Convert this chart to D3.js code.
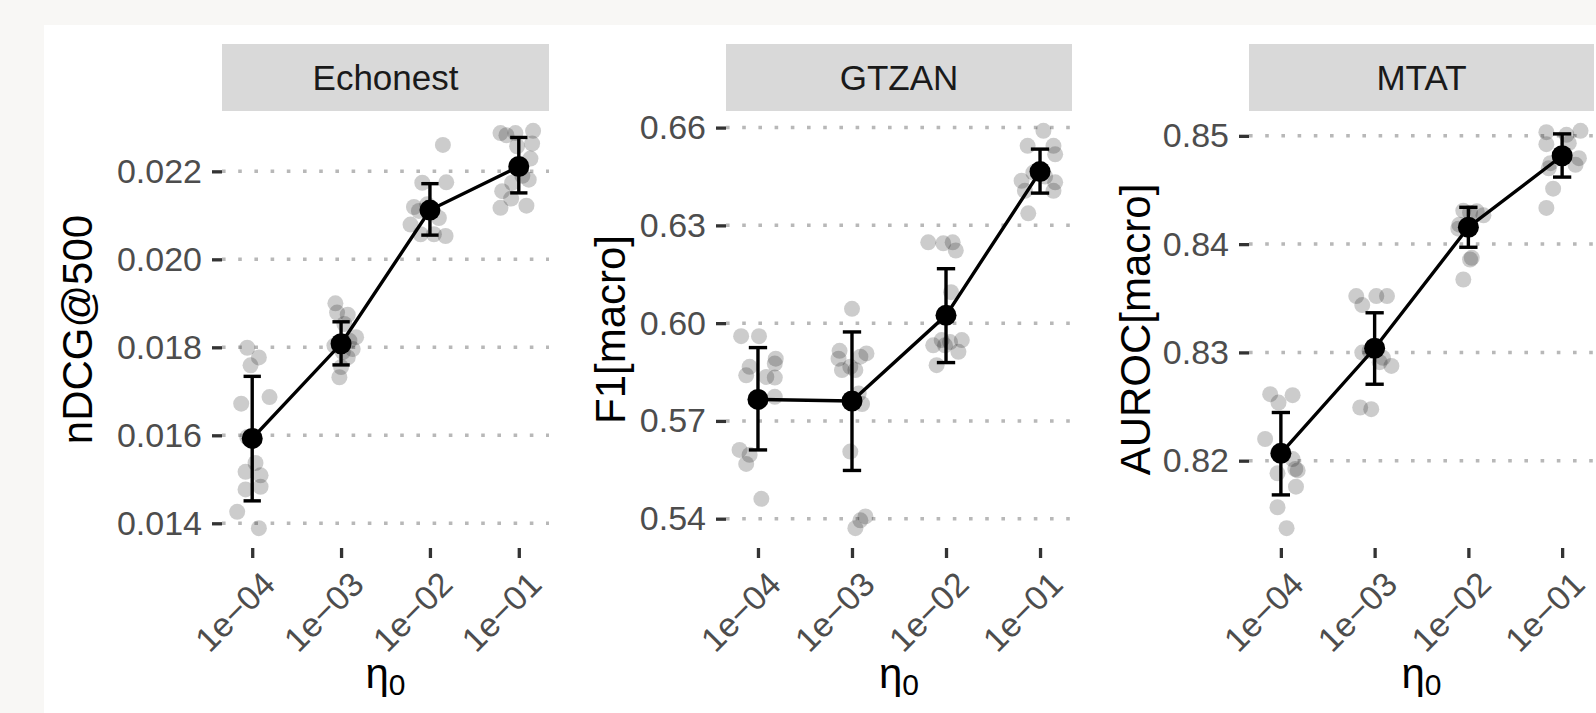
<!DOCTYPE html>
<html>
<head>
<meta charset="utf-8">
<title>eta0 sweep</title>
<script src="https://cdn.jsdelivr.net/npm/d3@7"></script>
<style>
  html, body { margin: 0; padding: 0; background: #f8f7f5; }
  svg { display: block; font-family: "Liberation Sans", Arial, sans-serif; }
</style>
</head>
<body>
<div class="vis"></div>
<script>
'use strict';

// shared x axis: initial learning rate as powers of ten
var etaExponents = [-4, -3, -2, -1];
var etaLabels = ['1e\u221204', '1e\u221203', '1e\u221202', '1e\u221201'];

// facet names and y titles
var datasets = ['Echonest', 'GTZAN', 'MTAT'];
var metricTitles = ['nDCG@500', 'F1[macro]', 'AUROC[macro]'];

// y tick labels per facet
var echonestTicks = [0.014, 0.016, 0.018, 0.020, 0.022];
var gtzanTicks = [0.54, 0.57, 0.60, 0.63, 0.66];
var mtatTicks = [0.82, 0.83, 0.84, 0.85];

// mean and error bar ends per eta0
var echonestMean = [0.01593, 0.01808, 0.02112, 0.02211];
var echonestLow = [0.01451, 0.01760, 0.02055, 0.02151];
var echonestHigh = [0.01734, 0.01858, 0.02172, 0.02277];

var gtzanMean = [0.5766, 0.5761, 0.6024, 0.6465];
var gtzanLow = [0.5611, 0.5548, 0.5879, 0.6399];
var gtzanHigh = [0.5925, 0.5973, 0.6167, 0.6534];

var mtatMean = [0.82068, 0.83038, 0.84156, 0.84816];
var mtatLow = [0.81684, 0.82706, 0.83971, 0.84619];
var mtatHigh = [0.82445, 0.83366, 0.84340, 0.85018];

// single runs: [log10(eta0) with jitter, score]
var echonestRuns = [
  [-4.056, 0.01799], [-3.925, 0.01777], [-4.019, 0.01759], [-3.805, 0.01687], [-4.124, 0.01672],
  [-4.056, 0.01596], [-3.963, 0.01537], [-4.075, 0.01517], [-3.906, 0.01509], [-4.075, 0.01477],
  [-3.906, 0.01483], [-4.169, 0.01426], [-3.925, 0.01389],
  [-3.064, 0.01900], [-3.045, 0.01879], [-2.925, 0.01874], [-2.963, 0.01853], [-2.831, 0.01823],
  [-3.075, 0.01804], [-2.869, 0.01796], [-2.925, 0.01777], [-3.000, 0.01755], [-3.019, 0.01732],
  [-2.906, 0.01815], [-2.981, 0.01789],
  [-1.854, 0.02260], [-2.086, 0.02174], [-1.816, 0.02175], [-2.180, 0.02119], [-2.124, 0.02110],
  [-1.899, 0.02094], [-2.218, 0.02079], [-2.105, 0.02057], [-1.955, 0.02057], [-1.824, 0.02053],
  [-2.030, 0.02125],
  [-1.206, 0.02287], [-1.139, 0.02282], [-1.038, 0.02287], [-0.839, 0.02292], [-0.850, 0.02263],
  [-1.019, 0.02257], [-0.869, 0.02229], [-0.888, 0.02181], [-1.075, 0.02174], [-1.187, 0.02155],
  [-1.086, 0.02138], [-1.206, 0.02117], [-0.914, 0.02122], [-0.960, 0.02190]
];

var gtzanRuns = [
  [-4.179, 0.5960], [-3.989, 0.5960], [-3.811, 0.5891], [-3.821, 0.5876], [-4.089, 0.5866],
  [-4.125, 0.5840], [-3.911, 0.5835], [-3.821, 0.5833], [-3.821, 0.5774], [-4.196, 0.5611],
  [-4.089, 0.5596], [-4.125, 0.5568], [-3.964, 0.5461],
  [-3.000, 0.6044], [-3.132, 0.5915], [-2.846, 0.5907], [-2.911, 0.5897], [-3.143, 0.5891],
  [-3.018, 0.5866], [-3.107, 0.5856], [-2.964, 0.5856], [-2.929, 0.5784], [-2.893, 0.5752],
  [-3.018, 0.5606], [-2.857, 0.5407], [-2.911, 0.5395], [-2.964, 0.5371],
  [-2.189, 0.6248], [-2.029, 0.6245], [-1.929, 0.6248], [-1.896, 0.6223], [-1.946, 0.6095],
  [-2.136, 0.5932], [-2.046, 0.5948], [-1.957, 0.5942], [-1.832, 0.5948], [-1.868, 0.5912],
  [-2.100, 0.5871], [-2.011, 0.5932],
  [-0.964, 0.6590], [-1.132, 0.6544], [-0.857, 0.6544], [-0.839, 0.6518], [-1.071, 0.6462],
  [-1.196, 0.6437], [-0.839, 0.6432], [-1.161, 0.6406], [-0.857, 0.6406], [-1.125, 0.6337],
  [-0.946, 0.6450]
];

var mtatRuns = [
  [-4.114, 0.82614], [-4.025, 0.82537], [-3.875, 0.82605], [-4.168, 0.82200], [-3.875, 0.82015],
  [-4.036, 0.81883], [-3.846, 0.81923], [-3.821, 0.81910], [-3.839, 0.81760], [-4.036, 0.81570],
  [-3.939, 0.81377],
  [-3.196, 0.83520], [-2.982, 0.83520], [-2.868, 0.83520], [-3.132, 0.83437], [-3.132, 0.82998],
  [-2.911, 0.82950], [-2.946, 0.82910], [-2.821, 0.82875], [-3.154, 0.82491], [-3.036, 0.82476],
  [-3.054, 0.83013],
  [-2.054, 0.84309], [-1.911, 0.84303], [-1.839, 0.84266], [-2.096, 0.84180], [-2.107, 0.84143],
  [-1.964, 0.83873], [-1.982, 0.83858], [-2.054, 0.83673], [-1.982, 0.84290],
  [-1.168, 0.85034], [-0.804, 0.85046], [-0.954, 0.85009], [-1.168, 0.84923], [-0.929, 0.84932],
  [-0.821, 0.84794], [-0.857, 0.84733], [-1.125, 0.84748], [-1.143, 0.84700], [-1.096, 0.84512],
  [-1.168, 0.84334]
];

(function ( window, document, undefined ) {

  var width = 1596;
  var height = 713;

  // x limits in log10 units, same for every facet
  var xLimits = [-4.34, -0.66];
  // error bar cap width in log10 units
  var capWidth = 0.195;

  // panel boxes (pixels) and where each y title sits
  var panelTop = 111;
  var panelBottom = 548;
  var stripTop = 44;
  var panels = [
    { left: 222, right: 549, titleX: 92 },
    { left: 726, right: 1072, titleX: 625 },
    { left: 1249, right: 1594, titleX: 1150 }
  ];

  var facets = [
    { ticks: echonestTicks, fmt: d3.format('.3f'), mean: echonestMean, low: echonestLow, high: echonestHigh, runs: echonestRuns },
    { ticks: gtzanTicks, fmt: d3.format('.2f'), mean: gtzanMean, low: gtzanLow, high: gtzanHigh, runs: gtzanRuns },
    { ticks: mtatTicks, fmt: d3.format('.2f'), mean: mtatMean, low: mtatLow, high: mtatHigh, runs: mtatRuns }
  ];

  var svg = d3.select('.vis')
    .append('svg')
    .attr('width', width)
    .attr('height', height);

  // white plot area on the grey page
  svg.append('rect')
    .attr('x', 44)
    .attr('y', 25)
    .attr('width', width - 44)
    .attr('height', height - 25)
    .attr('fill', '#ffffff');

  facets.forEach(function ( facet, i ) {
    drawFacet( facet, panels[i], datasets[i], metricTitles[i] );
  });

  /**
   * Draws one facet: strip, grid, axes, single runs, mean line and error bars.
   *
   * @param {object} facet data of the facet
   * @param {object} box pixel box of the panel
   * @param {string} name facet name shown in the strip
   * @param {string} title y axis title
   */
  function drawFacet( facet, box, name, title ) {

    var x = d3.scaleLinear()
      .domain( xLimits )
      .range( [box.left, box.right] );

    // y limits: data range expanded by 5% like ggplot does
    var values = facet.runs.map(function(d) { return d[1]; })
      .concat( facet.low, facet.high );
    var ext = d3.extent( values );
    var pad = (ext[1] - ext[0]) * 0.05;

    var y = d3.scaleLinear()
      .domain( [ext[0] - pad, ext[1] + pad] )
      .range( [panelBottom, panelTop] );

    var g = svg.append('g');

    // strip with facet name
    g.append('rect')
      .attr('x', box.left)
      .attr('y', stripTop)
      .attr('width', box.right - box.left)
      .attr('height', panelTop - stripTop)
      .attr('fill', '#d9d9d9');

    g.append('text')
      .attr('x', (box.left + box.right) / 2)
      .attr('y', (stripTop + panelTop) / 2)
      .attr('dy', '0.36em')
      .attr('text-anchor', 'middle')
      .attr('font-size', 35)
      .attr('fill', '#1a1a1a')
      .text( name );

    // dotted horizontal grid
    g.selectAll('.grid')
      .data( facet.ticks )
      .enter()
      .append('line')
      .attr('class', 'grid')
      .attr('x1', box.left)
      .attr('x2', box.right)
      .attr('y1', function(d) { return y(d); })
      .attr('y2', function(d) { return y(d); })
      .attr('stroke', '#b8b8b8')
      .attr('stroke-width', 3.5)
      .attr('stroke-dasharray', '3.6,12.6');

    // y axis
    var yAxis = g.append('g')
      .attr('transform', 'translate(' + box.left + ',0)')
      .call( d3.axisLeft( y ).tickValues( facet.ticks ).tickFormat( facet.fmt ).tickSize( 10 ).tickPadding( 10 ) );

    // x axis
    var xAxis = g.append('g')
      .attr('transform', 'translate(0,' + panelBottom + ')')
      .call( d3.axisBottom( x ).tickValues( etaExponents )
        .tickFormat(function(d, j) { return etaLabels[j]; })
        .tickSize( 10 ) );

    [yAxis, xAxis].forEach(function ( axis ) {
      axis.select('.domain').remove();
      axis.selectAll('.tick line')
        .attr('stroke', '#333333')
        .attr('stroke-width', 3.3);
      axis.selectAll('.tick text')
        .attr('fill', '#4d4d4d')
        .attr('font-size', 34)
        .attr('font-family', '"Liberation Sans", Arial, sans-serif');
    });

    // rotated eta labels, right end at the tick
    xAxis.selectAll('.tick text')
      .attr('text-anchor', 'end')
      .attr('y', 0)
      .attr('dy', '0.72em')
      .attr('transform', 'translate(7,21) rotate(-45)');

    // axis titles
    g.append('text')
      .attr('transform', 'translate(' + box.titleX + ',' + (panelTop + panelBottom) / 2 + ') rotate(-90)')
      .attr('text-anchor', 'middle')
      .attr('font-size', 42)
      .attr('fill', '#000000')
      .text( title );

    var xTitle = g.append('text')
      .attr('x', (box.left + box.right) / 2)
      .attr('y', 688)
      .attr('text-anchor', 'middle')
      .attr('font-size', 42)
      .attr('fill', '#000000');

    xTitle.append('tspan').text('\u03b7');
    xTitle.append('tspan')
      .attr('font-size', 30)
      .attr('dy', 7)
      .text('0');

    // single runs
    g.selectAll('.run')
      .data( facet.runs )
      .enter()
      .append('circle')
      .attr('class', 'run')
      .attr('cx', function(d) { return x( d[0] ); })
      .attr('cy', function(d) { return y( d[1] ); })
      .attr('r', 8)
      .attr('fill', '#000000')
      .attr('fill-opacity', 0.2);

    var summary = etaExponents.map(function ( e, j ) {
      return { e: e, mean: facet.mean[j], low: facet.low[j], high: facet.high[j] };
    });

    // mean line
    g.append('path')
      .datum( summary )
      .attr('fill', 'none')
      .attr('stroke', '#000000')
      .attr('stroke-width', 3.4)
      .attr('d', d3.line()
        .x(function(d) { return x( d.e ); })
        .y(function(d) { return y( d.mean ); }) );

    // error bars
    var bars = g.selectAll('.bar')
      .data( summary )
      .enter()
      .append('g')
      .attr('class', 'bar')
      .attr('stroke', '#000000')
      .attr('stroke-width', 3.4);

    bars.append('line')
      .attr('x1', function(d) { return x( d.e ); })
      .attr('x2', function(d) { return x( d.e ); })
      .attr('y1', function(d) { return y( d.low ); })
      .attr('y2', function(d) { return y( d.high ); });

    ['low', 'high'].forEach(function ( key ) {
      bars.append('line')
        .attr('x1', function(d) { return x( d.e - capWidth / 2 ); })
        .attr('x2', function(d) { return x( d.e + capWidth / 2 ); })
        .attr('y1', function(d) { return y( d[key] ); })
        .attr('y2', function(d) { return y( d[key] ); });
    });

    // means
    g.selectAll('.mean')
      .data( summary )
      .enter()
      .append('circle')
      .attr('class', 'mean')
      .attr('cx', function(d) { return x( d.e ); })
      .attr('cy', function(d) { return y( d.mean ); })
      .attr('r', 10.5)
      .attr('fill', '#000000');
  }

})( this, document );
</script>
</body>
</html>
